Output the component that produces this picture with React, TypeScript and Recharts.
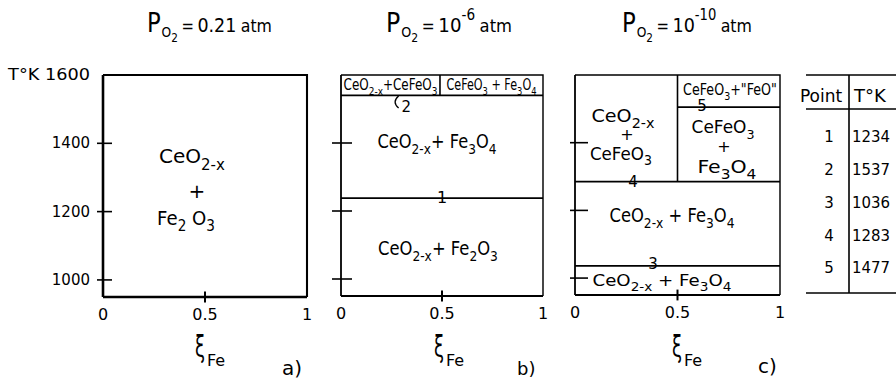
import React from "react";
import { ComposedChart, XAxis, YAxis, Line, ReferenceLine, ReferenceDot } from "recharts";

const W = 896;
const H = 380;
const FONT = "'DejaVu Sans', sans-serif";

// axes
const xTicks = [0, 0.5, 1];
const xTickLabels = ["0", "0.5", "1"];
const yTicks = [1000, 1200, 1400, 1600];
const yTickLabels = ["1000", "1200", "1400", "T°K 1600"];
const tMin = 950;
const tMax = 1600;

// top and right edges of each panel frame
const frameX = [0, 1, 1];
const frameT = [tMax, tMax, tMin];

// oxygen pressure per panel
const pO2Base = ["0.21", "10", "10"];
const pO2Exp = ["", "-6", "-10"];
const panelTags = ["a)", "b)", "c)"];

// phase boundaries as drawn (T°K)
const boundariesB = [1540, 1238]; // points 2, 1
const splitB = 0.49;
const boundariesC = [1285, 1036, 1505]; // points 4, 3, 5
const splitC = 0.5;

// phase fields
const phasesA = ["CeO_{2-x}", "+", "Fe_2 O_3"];
const phasesB = ["CeO_{2-x}+CeFeO_3", "CeFeO_3 + Fe_3O_4", "CeO_{2-x}+ Fe_3O_4", "CeO_{2-x}+ Fe_2O_3"];
const phasesC = ["CeO_{2-x}", "+", "CeFeO_3", "CeFeO_3+\"FeO\"", "Fe_3O_4", "CeO_{2-x} + Fe_3O_4"];

// table
const pointIds = ["1", "2", "3", "4", "5"];
const pointTemps = ["1234", "1537", "1036", "1283", "1477"];

const frameData = frameX.map((x, i) => ({ x, t: frameT[i] }));

let ctx: CanvasRenderingContext2D | null = null;
function textWidth(t: string, size: number) {
  if (!ctx) ctx = document.createElement("canvas").getContext("2d");
  if (!ctx) return t.length * size * 0.6;
  ctx.font = `${size}px "DejaVu Sans"`;
  return ctx.measureText(t).width;
}

function Chem({ x, y, s, size, width, anchor = "middle" }: any) {
  const parts: { t: string; sub: boolean }[] = [];
  const re = /_\{([^}]*)\}|_(.)|([^_]+)/g;
  let m: RegExpExecArray | null;
  while ((m = re.exec(s))) {
    if (m[1] !== undefined) parts.push({ t: m[1], sub: true });
    else if (m[2] !== undefined) parts.push({ t: m[2], sub: true });
    else parts.push({ t: m[3], sub: false });
  }
  const natural = parts.reduce((a, p) => a + textWidth(p.t, p.sub ? size * 0.75 : size), 0);
  const sc = width ? width / natural : 1;
  let cur = 0;
  return (
    <g transform={`translate(${x},${y}) scale(${sc},1)`}>
      <text x={0} y={0} textAnchor={anchor} fontFamily={FONT} fontSize={size} fill="#000">
        {parts.map((p, i) => {
          const target = p.sub ? size * 0.32 : 0;
          const dy = target - cur;
          cur = target;
          return (
            <tspan key={i} dy={dy} fontSize={p.sub ? size * 0.75 : size}>
              {p.t}
            </tspan>
          );
        })}
      </text>
    </g>
  );
}

const lab = (key: string, x: number, t: number, s: string, size: number, width?: number) => (
  <ReferenceDot
    key={key}
    x={x}
    y={t}
    r={0}
    ifOverflow="visible"
    shape={(p: any) => <Chem x={p.cx} y={p.cy} s={s} size={size} width={width} />}
  />
);

function XTick({ x, y, payload }: any) {
  const i = xTicks.indexOf(payload.value);
  return (
    <text x={x} y={y + 23} textAnchor="middle" fontFamily={FONT} fontSize={16} fill="#000">
      {xTickLabels[i]}
    </text>
  );
}

function makeYTick(before: number, after: number, showLabels: boolean) {
  return function YTick({ x, y, payload }: any) {
    const i = yTicks.indexOf(payload.value);
    const top = payload.value === tMax;
    const sc = top ? 82 / textWidth(yTickLabels[i], 16) : 1;
    return (
      <g>
        {!top && <line x1={x - before} x2={x + after} y1={y} y2={y} stroke="#000" strokeWidth={1.6} />}
        {showLabels && (
          <g transform={`translate(${x - 13},${y + 5}) scale(${sc},1)`}>
            <text x={0} y={0} textAnchor="end" fontFamily={FONT} fontSize={top ? 16 : 15} fill="#000">
              {yTickLabels[i]}
            </text>
          </g>
        )}
      </g>
    );
  };
}

function Panel({ left, right, bottom, stroke, tick, children }: any) {
  return (
    <div style={{ position: "absolute", left: 0, top: 0 }}>
      <ComposedChart
        width={W}
        height={H}
        data={frameData}
        margin={{ top: 75, right: W - right, bottom: H - bottom - 30, left: left - 40 }}
      >
        <XAxis
          type="number"
          dataKey="x"
          domain={[0, 1]}
          ticks={xTicks}
          interval={0}
          height={30}
          axisLine={{ stroke: "#000", strokeWidth: stroke }}
          tickLine={false}
          tickSize={0}
          tickMargin={0}
          tick={<XTick />}
        />
        <YAxis
          type="number"
          dataKey="t"
          domain={[tMin, tMax]}
          ticks={yTicks}
          interval={0}
          width={40}
          axisLine={{ stroke: "#000", strokeWidth: stroke }}
          tickLine={false}
          tickSize={0}
          tickMargin={0}
          tick={tick}
        />
        <Line
          dataKey="t"
          type="linear"
          stroke="#000"
          strokeWidth={stroke * 0.8}
          dot={false}
          activeDot={false}
          isAnimationActive={false}
        />
        {/* small mark at 0.5 on the bottom axis */}
        <ReferenceLine
          segment={[{ x: xTicks[1], y: tMin - 16 }, { x: xTicks[1], y: tMin + 16 }]}
          stroke="#000"
          strokeWidth={2}
          ifOverflow="visible"
        />
        {children}
      </ComposedChart>
    </div>
  );
}

const seg = (key: string, x1: number, t1: number, x2: number, t2: number) => (
  <ReferenceLine
    key={key}
    segment={[{ x: x1, y: t1 }, { x: x2, y: t2 }]}
    stroke="#000"
    strokeWidth={1.6}
    ifOverflow="visible"
  />
);

function Title({ x, base, exp, width }: any) {
  const natural =
    textWidth("P", 26) + 1 + textWidth("O", 14) + textWidth("2", 12) + 4 + textWidth("=", 17) + 4 +
    textWidth(base, 20) + (exp ? textWidth(exp, 15) : 0) + 5 + textWidth("atm", 18);
  const sc = width / natural;
  return (
    <g transform={`translate(${x},32) scale(${sc},1)`}>
      <text x={0} y={0} fontFamily={FONT} fill="#000">
        <tspan fontSize={26}>P</tspan>
        <tspan fontSize={14} dy={5} dx={1}>O</tspan>
        <tspan fontSize={12} dy={5}>2</tspan>
        <tspan fontSize={17} dy={-10} dx={4}>=</tspan>
        <tspan fontSize={20} dx={4}>{base}</tspan>
        {exp && (
          <tspan fontSize={15} dy={-12}>
            {exp}
          </tspan>
        )}
        <tspan fontSize={18} dy={exp ? 12 : 0} dx={5}>
          atm
        </tspan>
      </text>
    </g>
  );
}

function XiLabel({ x, y }: any) {
  return (
    <g>
      <text transform={`translate(${x},${y}) scale(0.6,1)`} fontFamily={FONT} fontSize={30} fill="#000">
        ξ
      </text>
      <text x={x + 12} y={y + 9} fontFamily={FONT} fontSize={16} fill="#000">
        Fe
      </text>
    </g>
  );
}

const rowBase = [142, 175, 208, 241, 273];

export default function App() {
  return (
    <div style={{ position: "absolute", left: 0, top: 0, width: W, height: H, background: "#fff" }}>
      {/* a) */}
      <Panel left={103} right={307} bottom={297} stroke={2.6} tick={makeYTick(6, 9, true)}>
        {lab("a0", 0.436, 1342, phasesA[0], 20, 66)}
        {lab("a1", 0.46, 1240, phasesA[1], 20)}
        {lab("a2", 0.407, 1161, phasesA[2], 20, 58)}
      </Panel>

      {/* b) */}
      <Panel left={341} right={543} bottom={296} stroke={1.8} tick={makeYTick(9, 11, false)}>
        {seg("b2", 0, boundariesB[0], 1, boundariesB[0])}
        {seg("b1", 0, boundariesB[1], 1, boundariesB[1])}
        {seg("bs", splitB, boundariesB[0], splitB, tMax)}
        {lab("b0", 0.245, 1555, phasesB[0], 15, 94)}
        {lab("b1t", 0.745, 1555, phasesB[1], 15, 90)}
        {lab("b2t", 0.475, 1385, phasesB[2], 19, 119)}
        {lab("b3t", 0.48, 1071, phasesB[3], 19, 120)}
        {lab("bn1", 0.5, 1224, "1", 16)}
        <ReferenceDot
          x={0.3}
          y={1491}
          r={0}
          ifOverflow="visible"
          shape={(p: any) => (
            <g>
              <path
                d={`M ${p.cx - 3} ${p.cy - 16} Q ${p.cx - 10} ${p.cy - 10} ${p.cx - 3} ${p.cy - 4}`}
                fill="none"
                stroke="#000"
                strokeWidth={1.3}
              />
              <text x={p.cx} y={p.cy} fontFamily={FONT} fontSize={15} fill="#000">
                2
              </text>
            </g>
          )}
        />
      </Panel>

      {/* c) */}
      <Panel left={575} right={780} bottom={295} stroke={1.8} tick={makeYTick(5, 13, false)}>
        {seg("c4", 0, boundariesC[0], 1, boundariesC[0])}
        {seg("c3", 0, boundariesC[1], 1, boundariesC[1])}
        {seg("cs", splitC, boundariesC[0], splitC, tMax)}
        {seg("c5", splitC, boundariesC[2], 1, boundariesC[2])}
        {lab("c0", 0.234, 1460, phasesC[0], 18, 63)}
        {lab("c1", 0.254, 1407, phasesC[1], 16)}
        {lab("c2", 0.224, 1350, phasesC[2], 18, 62)}
        {lab("c3t", 0.756, 1540, phasesC[3], 15, 94)}
        {lab("c4t", 0.722, 1428, phasesC[2], 17, 63)}
        {lab("c5t", 0.727, 1373, phasesC[1], 16)}
        {lab("c6t", 0.741, 1309, phasesC[4], 18, 59)}
        {lab("c7t", 0.473, 1166, phasesC[5], 19, 125)}
        {lab("c8t", 0.424, 977, phasesC[5], 16, 139)}
        {lab("cn4", 0.283, 1269, "4", 15)}
        {lab("cn3", 0.38, 1028, "3", 15)}
        {lab("cn5", 0.62, 1493, "5", 15)}
      </Panel>

      <svg width={W} height={H} style={{ position: "absolute", left: 0, top: 0 }}>
        <Title x={147} base={pO2Base[0]} exp={pO2Exp[0]} width={125} />
        <Title x={386} base={pO2Base[1]} exp={pO2Exp[1]} width={126} />
        <Title x={622} base={pO2Base[2]} exp={pO2Exp[2]} width={130} />

        <XiLabel x={195} y={357} />
        <XiLabel x={434} y={357} />
        <XiLabel x={672} y={357} />

        <text x={282} y={375} fontFamily={FONT} fontSize={20} fill="#000">{panelTags[0]}</text>
        <text x={517} y={375} fontFamily={FONT} fontSize={18} fill="#000">{panelTags[1]}</text>
        <text x={758} y={373} fontFamily={FONT} fontSize={20} fill="#000">{panelTags[2]}</text>

        {/* table */}
        <line x1={806} x2={896} y1={75} y2={75} stroke="#000" strokeWidth={1.6} />
        <line x1={806} x2={896} y1={109} y2={109} stroke="#000" strokeWidth={1.6} />
        <line x1={806} x2={896} y1={293} y2={293} stroke="#000" strokeWidth={1.6} />
        <line x1={849} x2={849} y1={75} y2={293} stroke="#000" strokeWidth={1.6} />
        <text x={821} y={102} textAnchor="middle" fontFamily={FONT} fontSize={17} fill="#000">Point</text>
        <text x={854} y={102} fontFamily={FONT} fontSize={18} fill="#000">T°K</text>
        {pointIds.map((id, i) => (
          <g key={id}>
            <text x={829} y={rowBase[i]} textAnchor="middle" fontFamily={FONT} fontSize={15} fill="#000">
              {id}
            </text>
            <g transform={`translate(852,${rowBase[i]}) scale(${38 / textWidth(pointTemps[i], 15)},1)`}>
              <text x={0} y={0} fontFamily={FONT} fontSize={15} fill="#000">
                {pointTemps[i]}
              </text>
            </g>
          </g>
        ))}
      </svg>
    </div>
  );
}
